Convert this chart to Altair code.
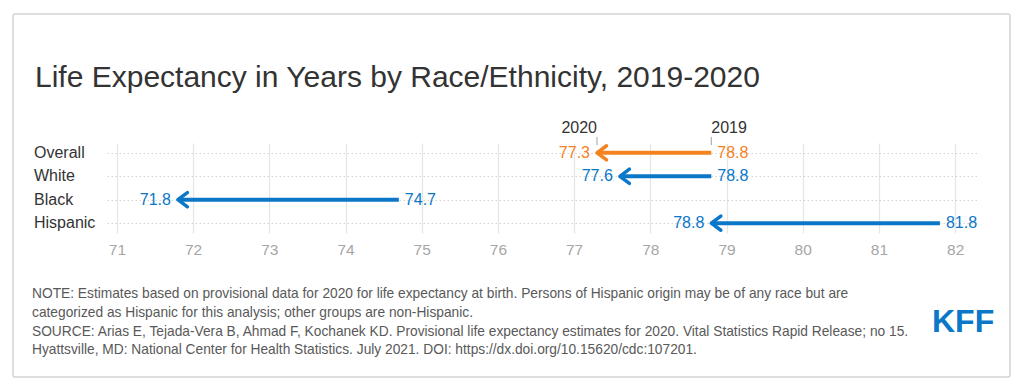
import altair as alt
import pandas as pd

groups = ["Overall", "White", "Black", "Hispanic"]
life_2019 = [78.8, 78.8, 74.7, 81.8]
life_2020 = [77.3, 77.6, 71.8, 78.8]
bar_colors = ["#f5821f", "#0a77c8", "#0a77c8", "#0a77c8"]
x_ticks = [71, 72, 73, 74, 75, 76, 77, 78, 79, 80, 81, 82]
year_labels = ["2019", "2020"]

title_text = "Life Expectancy in Years by Race/Ethnicity, 2019-2020"
note_lines = [
    "NOTE: Estimates based on provisional data for 2020 for life expectancy at birth. Persons of Hispanic origin may be of any race but are",
    "categorized as Hispanic for this analysis; other groups are non-Hispanic.",
    "SOURCE: Arias E, Tejada-Vera B, Ahmad F, Kochanek KD. Provisional life expectancy estimates for 2020. Vital Statistics Rapid Release; no 15.",
    "Hyattsville, MD: National Center for Health Statistics. July 2021. DOI: https://dx.doi.org/10.15620/cdc:107201.",
]

FONT = "Liberation Sans, Arial, Helvetica, sans-serif"

df = pd.DataFrame({
    "group": groups,
    "v2019": life_2019,
    "v2020": life_2020,
    "color": bar_colors,
})
df["l2019"] = [f"{v:.1f}" for v in life_2019]
df["l2020"] = [f"{v:.1f}" for v in life_2020]

head = pd.DataFrame({
    "year": year_labels,
    "val": [life_2019[0], life_2020[0]],
})

one = pd.DataFrame({"a": [0]})

xs = alt.Scale(domain=[70.87, 82.30], nice=False, zero=False)
ys = alt.Scale(type="point", domain=groups, padding=0.42)

x_axis = alt.Axis(
    values=x_ticks, format="d", grid=True, gridColor="#e6e6e6", gridWidth=1.3,
    domain=False, ticks=False, tickSize=0, labelPadding=9,
    labelColor="#a6a6a6", labelFontSize=15.5, labelFont=FONT, title=None)
y_axis = alt.Axis(
    labels=False, ticks=False, domain=False, grid=True,
    gridDash=[1.5, 2.5], gridColor="#d2d2d2", gridWidth=1, title=None)

X = lambda f: alt.X(f, type="quantitative", scale=xs, axis=x_axis)
Y = alt.Y("group:N", scale=ys, axis=y_axis)

border = alt.Chart(one).mark_rect(
    fill="white", fillOpacity=0, stroke="#d4d4d4", strokeWidth=1.5, cornerRadius=2
).encode(
    x=alt.value(-94), x2=alt.value(903), y=alt.value(-129), y2=alt.value(234)
)

lines = alt.Chart(df).mark_rule(strokeWidth=4).encode(
    x=X("v2019"), x2="v2020", y=Y, color=alt.Color("color:N", scale=None)
)

heads = alt.Chart(df).mark_point(
    shape="M 1.35 -1 L 0 0 L 1.35 1", filled=False, size=200, strokeWidth=3.5,
    opacity=1, strokeJoin="round", strokeCap="round"
).encode(
    x=X("v2020"), y=Y, color=alt.Color("color:N", scale=None)
)

lab2020 = alt.Chart(df).mark_text(
    align="right", baseline="middle", dx=-7, fontSize=16, font=FONT
).encode(x=X("v2020"), y=Y, text="l2020:N", color=alt.Color("color:N", scale=None))

lab2019 = alt.Chart(df).mark_text(
    align="left", baseline="middle", dx=6, fontSize=16, font=FONT
).encode(x=X("v2019"), y=Y, text="l2019:N", color=alt.Color("color:N", scale=None))

ylabels = alt.Chart(df).mark_text(
    align="left", baseline="middle", fontSize=16, font=FONT, color="#333333"
).encode(x=alt.value(-73), y=Y, text="group:N")

head_ticks = alt.Chart(head).mark_rule(color="#a0a0a0", strokeWidth=1).encode(
    x=X("val"), y=alt.value(-6), y2=alt.value(2)
)
head_2019 = alt.Chart(head).transform_filter(alt.datum.year == "2019").mark_text(
    align="left", baseline="middle", fontSize=16, font=FONT, color="#333333"
).encode(x=X("val"), y=alt.value(-15), text="year:N")
head_2020 = alt.Chart(head).transform_filter(alt.datum.year == "2020").mark_text(
    align="right", baseline="middle", fontSize=16, font=FONT, color="#333333"
).encode(x=X("val"), y=alt.value(-15), text="year:N")

title = alt.Chart(one).mark_text(
    align="left", baseline="alphabetic", fontSize=30, font=FONT, color="#333333"
).encode(x=alt.value(-72), y=alt.value(-56), text=alt.value(title_text))

notes = alt.Chart(one).mark_text(
    align="left", baseline="alphabetic", fontSize=13.75, font=FONT, color="#595959",
    lineHeight=18.8
).encode(x=alt.value(-75), y=alt.value(155), text=alt.value(note_lines))

logo = alt.Chart(one).mark_text(
    align="left", baseline="alphabetic", fontSize=32, fontWeight="bold",
    font=FONT, color="#0a77c8"
).encode(x=alt.value(825), y=alt.value(189), text=alt.value("KFF"))

chart = alt.layer(
    border, lines, heads, lab2020, lab2019, ylabels,
    head_ticks, head_2019, head_2020, title, notes, logo
).properties(
    width=871, height=90,
    padding={"left": 99, "top": 135, "right": 38, "bottom": 150},
    autosize=alt.AutoSizeParams(type="none"),
).configure(font=FONT).configure_view(stroke="transparent")

chart.save("out.html", embed_options={"renderer": "svg", "actions": False})
